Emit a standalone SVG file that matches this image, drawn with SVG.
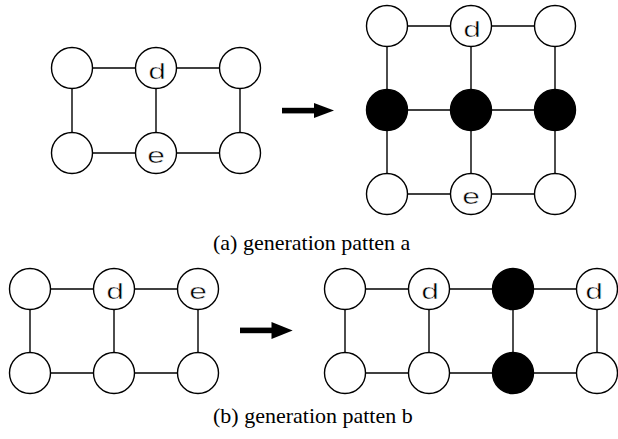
<svg xmlns="http://www.w3.org/2000/svg" width="618" height="439" viewBox="0 0 618 439">
<style>
.n{fill:#fff;stroke:#000;stroke-width:1.4}
.b{fill:#000;stroke:#000;stroke-width:1.4}
.e line{stroke:#000;stroke-width:1.4}
.l{font-family:"Liberation Mono","Courier New",monospace;font-size:22px;text-anchor:middle;fill:#000;stroke:#fff;stroke-width:0.45}
.c{font-family:"Liberation Serif","Times New Roman",serif;font-size:22px}
</style>
<rect width="618" height="439" fill="#fff"/>
<g id="connectors" class="e">
<line x1="72" y1="68" x2="240" y2="68"/>
<line x1="72" y1="153" x2="240" y2="153"/>
<line x1="72" y1="68" x2="72" y2="153"/>
<line x1="156" y1="68" x2="156" y2="153"/>
<line x1="240" y1="68" x2="240" y2="153"/>
<line x1="387" y1="26" x2="555" y2="26"/>
<line x1="387" y1="110" x2="555" y2="110"/>
<line x1="387" y1="194" x2="555" y2="194"/>
<line x1="387" y1="26" x2="387" y2="194"/>
<line x1="471" y1="26" x2="471" y2="194"/>
<line x1="555" y1="26" x2="555" y2="194"/>
<line x1="30" y1="289" x2="198" y2="289"/>
<line x1="30" y1="373" x2="198" y2="373"/>
<line x1="30" y1="289" x2="30" y2="373"/>
<line x1="114" y1="289" x2="114" y2="373"/>
<line x1="198" y1="289" x2="198" y2="373"/>
<line x1="345" y1="289" x2="597" y2="289"/>
<line x1="345" y1="373" x2="597" y2="373"/>
<line x1="345" y1="289" x2="345" y2="373"/>
<line x1="429" y1="289" x2="429" y2="373"/>
<line x1="513" y1="289" x2="513" y2="373"/>
<line x1="597" y1="289" x2="597" y2="373"/>
</g>
<g id="arrows">
<rect x="282" y="107.8" width="33" height="5.6"/>
<polygon points="314,103 334,110.5 314,118"/>
<rect x="240" y="327.6" width="32.5" height="5.6"/>
<polygon points="271.5,322 292.7,330.4 271.5,339"/>
</g>
<g id="a1"><circle class="n" cx="72" cy="68" r="20.5"/></g>
<g id="a2"><circle class="n" cx="156" cy="68" r="20.5"/><text class="l" transform="translate(157,79) scale(1.45,1)">d</text></g>
<g id="a3"><circle class="n" cx="240" cy="68" r="20.5"/></g>
<g id="a4"><circle class="n" cx="72" cy="153" r="20.5"/></g>
<g id="a5"><circle class="n" cx="156" cy="153" r="20.5"/><text class="l" transform="translate(156,163) scale(1.45,1)">e</text></g>
<g id="a6"><circle class="n" cx="240" cy="153" r="20.5"/></g>
<g id="r1"><circle class="n" cx="387" cy="26" r="20.5"/></g>
<g id="r2"><circle class="n" cx="471" cy="26" r="20.5"/><text class="l" transform="translate(472,36.5) scale(1.45,1)">d</text></g>
<g id="r3"><circle class="n" cx="555" cy="26" r="20.5"/></g>
<g id="r4"><circle class="b" cx="387" cy="110" r="20.5"/></g>
<g id="r5"><circle class="b" cx="471" cy="110" r="20.5"/></g>
<g id="r6"><circle class="b" cx="555" cy="110" r="20.5"/></g>
<g id="r7"><circle class="n" cx="387" cy="194" r="20.5"/></g>
<g id="r8"><circle class="n" cx="471" cy="194" r="20.5"/><text class="l" transform="translate(471,204) scale(1.45,1)">e</text></g>
<g id="r9"><circle class="n" cx="555" cy="194" r="20.5"/></g>
<text class="c" x="213" y="250">(a)  generation  patten  a</text>
<g id="b1"><circle class="n" cx="30" cy="289" r="20.5"/></g>
<g id="b2"><circle class="n" cx="114" cy="289" r="20.5"/><text class="l" transform="translate(115,298.5) scale(1.45,1)">d</text></g>
<g id="b3"><circle class="n" cx="198" cy="289" r="20.5"/><text class="l" transform="translate(198,298.5) scale(1.45,1)">e</text></g>
<g id="b4"><circle class="n" cx="30" cy="373" r="20.5"/></g>
<g id="b5"><circle class="n" cx="114" cy="373" r="20.5"/></g>
<g id="b6"><circle class="n" cx="198" cy="373" r="20.5"/></g>
<g id="s1"><circle class="n" cx="345" cy="289" r="20.5"/></g>
<g id="s2"><circle class="n" cx="429" cy="289" r="20.5"/><text class="l" transform="translate(430,298.5) scale(1.45,1)">d</text></g>
<g id="s3"><circle class="b" cx="513" cy="289" r="20.5"/></g>
<g id="s4"><circle class="n" cx="597" cy="289" r="20.5"/><text class="l" transform="translate(594,298.5) scale(1.45,1)">d</text></g>
<g id="s5"><circle class="n" cx="345" cy="373" r="20.5"/></g>
<g id="s6"><circle class="n" cx="429" cy="373" r="20.5"/></g>
<g id="s7"><circle class="b" cx="513" cy="373" r="20.5"/></g>
<g id="s8"><circle class="n" cx="597" cy="373" r="20.5"/></g>
<text class="c" x="213" y="423">(b)  generation  patten  b</text>
</svg>
